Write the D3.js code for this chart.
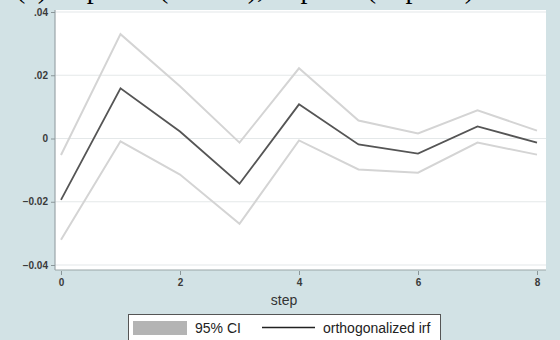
<!DOCTYPE html>
<html>
<head>
<meta charset="utf-8">
<script src="https://cdn.jsdelivr.net/npm/d3@7"></script>
<style>
  html, body { margin: 0; padding: 0; background: #d2e2e5; }
  svg { display: block; }
</style>
</head>
<body>
<svg id="chart" width="560" height="340"></svg>
<script>
// Orthogonalized impulse response with its 95% confidence band
const steps = [0, 1, 2, 3, 4, 5, 6, 7, 8];
const irf   = [-0.0194, 0.0159, 0.0022, -0.0143, 0.0108, -0.0019, -0.0048, 0.0038, -0.0013];
const ciUpper = [-0.0052, 0.0330, 0.0165, -0.0013, 0.0222, 0.0057, 0.0016, 0.0089, 0.0025];
const ciLower = [-0.0320, -0.0009, -0.0114, -0.0270, -0.0006, -0.0098, -0.0108, -0.0013, -0.0051];
const yTicks = [-0.04, -0.02, 0, 0.02, 0.04];
const xTicks = [0, 2, 4, 6, 8];
const titleText = "(c) response (dlnreer), impulse (impulse)";
const legendLabels = ["95% CI", "orthogonalized irf"];

const svg = d3.select("#chart");
const W = 560, H = 340;
const plot = { left: 55, right: 546, top: 10, bottom: 270 };
const sans = "'Liberation Sans', Arial, sans-serif";

svg.append("rect").attr("width", W).attr("height", H).attr("fill", "#d2e2e5");

// Title line, running above the top edge
svg.append("text")
  .attr("x", 16).attr("y", -2.5)
  .attr("font-family", "'Liberation Serif', 'Times New Roman', serif")
  .attr("font-size", 28)
  .attr("fill", "#000")
  .text(titleText);

const x = d3.scaleLinear().domain([0, 8]).range([61, 537]);
const y = d3.scaleLinear().domain([-0.04, 0.04]).range([265, 12]);

// Plot region
svg.append("rect")
  .attr("x", plot.left).attr("y", plot.top)
  .attr("width", plot.right - plot.left).attr("height", plot.bottom - plot.top)
  .attr("fill", "#ffffff");

// Grid lines
svg.append("g").selectAll("line").data(yTicks).join("line")
  .attr("x1", plot.left).attr("x2", plot.right)
  .attr("y1", d => y(d)).attr("y2", d => y(d))
  .attr("stroke", "#e4e8e9").attr("stroke-width", 1.2);

// Plot edges (left and bottom)
svg.append("line")
  .attr("x1", plot.left).attr("x2", plot.left)
  .attr("y1", plot.top).attr("y2", plot.bottom)
  .attr("stroke", "#9aa5a8").attr("stroke-width", 1.2);
svg.append("line")
  .attr("x1", plot.left).attr("x2", plot.right)
  .attr("y1", plot.bottom).attr("y2", plot.bottom)
  .attr("stroke", "#9aa5a8").attr("stroke-width", 1.2);

const fmt = d => d === 0 ? "0" : d3.format(".2f")(d).replace(/^(-?)0\./, "$1.");

// Y axis
const yAxis = d3.axisLeft(y).tickValues(yTicks).tickSize(4).tickPadding(3).tickFormat(fmt);
const gy = svg.append("g").attr("transform", `translate(${plot.left},0)`).call(yAxis);
gy.select(".domain").remove();
gy.selectAll(".tick line").attr("stroke", "#8a9699");
gy.selectAll(".tick text")
  .attr("font-family", sans).attr("font-weight", "bold")
  .attr("font-size", 10).attr("fill", "#3a3a3a");

// X axis
const xAxis = d3.axisBottom(x).tickValues(xTicks).tickSize(4).tickPadding(4).tickFormat(d3.format("d"));
const gx = svg.append("g").attr("transform", `translate(0,${plot.bottom + 1})`).call(xAxis);
gx.select(".domain").remove();
gx.selectAll(".tick line").attr("stroke", "#8a9699");
gx.selectAll(".tick text")
  .attr("font-family", sans).attr("font-weight", "bold")
  .attr("font-size", 10).attr("fill", "#3a3a3a");

svg.append("text")
  .attr("x", 284).attr("y", 305)
  .attr("text-anchor", "middle")
  .attr("font-family", sans)
  .attr("font-size", 14).attr("fill", "#333")
  .text("step");

// Lines
const line = d3.line().x((d, i) => x(steps[i])).y(d => y(d));
svg.append("path").datum(ciUpper).attr("d", line)
  .attr("fill", "none").attr("stroke", "#d4d4d4").attr("stroke-width", 2);
svg.append("path").datum(ciLower).attr("d", line)
  .attr("fill", "none").attr("stroke", "#d4d4d4").attr("stroke-width", 2);
svg.append("path").datum(irf).attr("d", line)
  .attr("fill", "none").attr("stroke", "#555555").attr("stroke-width", 1.8)
  .attr("stroke-linejoin", "miter");

// Legend
const lg = svg.append("g");
lg.append("rect")
  .attr("x", 128.5).attr("y", 314.5).attr("width", 312).attr("height", 40)
  .attr("fill", "#ffffff").attr("stroke", "#555").attr("stroke-width", 1);
lg.append("rect")
  .attr("x", 133).attr("y", 321).attr("width", 54).attr("height", 14)
  .attr("fill", "#b4b4b4");
lg.append("text")
  .attr("x", 195).attr("y", 333)
  .attr("font-family", sans)
  .attr("font-size", 14).attr("fill", "#222")
  .text(legendLabels[0]);
lg.append("line")
  .attr("x1", 262).attr("x2", 315).attr("y1", 327.5).attr("y2", 327.5)
  .attr("stroke", "#222").attr("stroke-width", 1.5);
lg.append("text")
  .attr("x", 323).attr("y", 333)
  .attr("font-family", sans)
  .attr("font-size", 14).attr("fill", "#222")
  .text(legendLabels[1]);
</script>
</body>
</html>
